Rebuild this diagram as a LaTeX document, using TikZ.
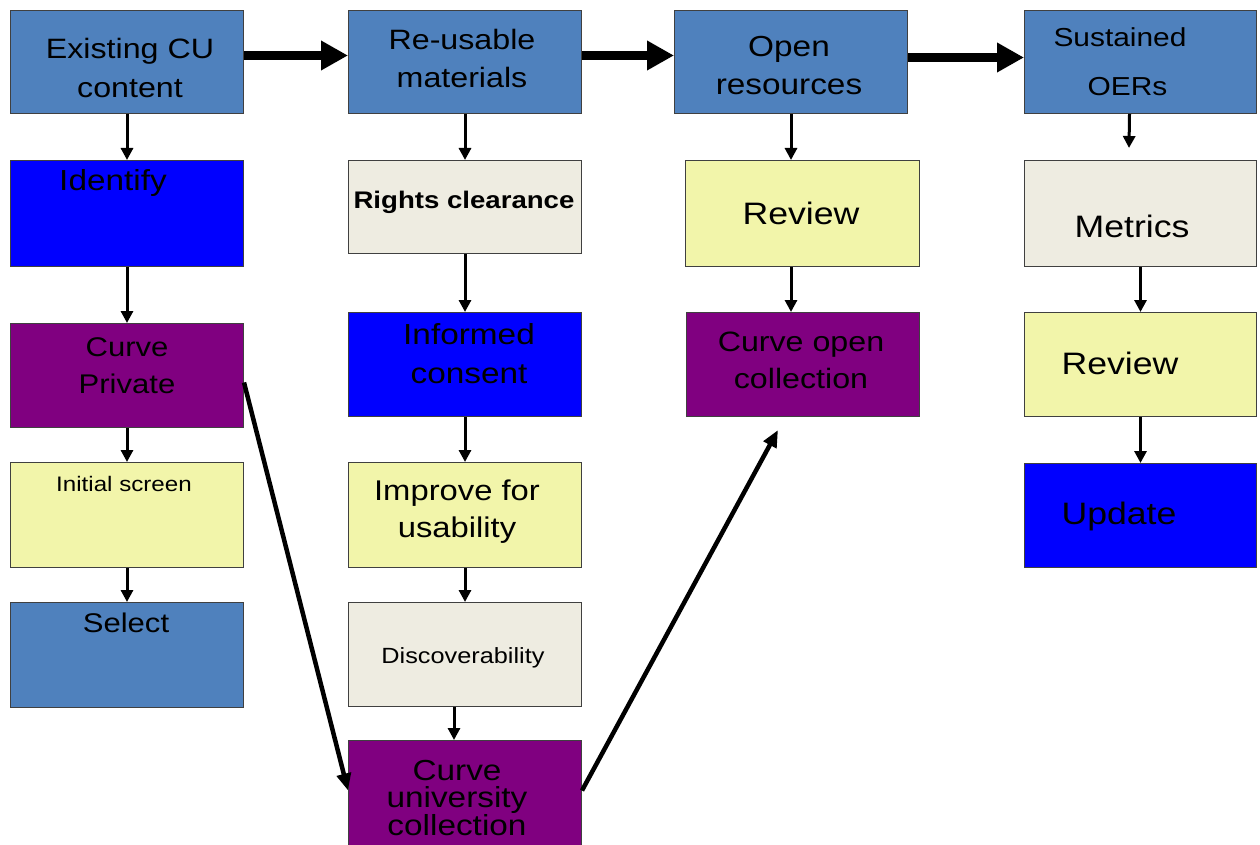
\documentclass[tikz,border=0pt]{standalone}
\usepackage{fontspec}
\setmainfont[FakeStretch=1.15]{Liberation Sans}
\usetikzlibrary{arrows.meta}
\definecolor{steel}{RGB}{79,129,189}
\definecolor{pureblue}{RGB}{0,0,255}
\definecolor{purp}{RGB}{128,0,128}
\definecolor{paleyellow}{RGB}{242,245,170}
\definecolor{beige}{RGB}{238,236,225}
\definecolor{boxline}{RGB}{64,64,64}
\newcommand\myfs[2]{\fontsize{#1}{#2}\selectfont}
\begin{document}
\begin{tikzpicture}[x=1pt,y=-1pt,
  box/.style={draw=boxline, line width=1pt, inner sep=0pt, anchor=north west},
  txt/.style={align=center, inner sep=0pt, text=black},
  thinarrow/.style={line width=3pt, -{Triangle[length=12pt,width=12pt]}},
  thickarrow/.style={line width=8.5pt, -{Triangle[length=27pt,width=28pt]}},
  diagarrow/.style={line width=4.5pt, -{Triangle[length=17pt,width=14pt]}}]
\useasboundingbox (0,0) rectangle (1260,845);
\clip (0,0) rectangle (1260,845);

% column 1
\node[box, fill=steel, minimum width=233pt, minimum height=103pt] (exist) at (10,10) {};
\node[box, fill=pureblue, minimum width=233pt, minimum height=106pt] (identify) at (10,160) {};
\node[box, fill=purp, minimum width=233pt, minimum height=104pt] (cpriv) at (10,323) {};
\node[box, fill=paleyellow, minimum width=233pt, minimum height=105pt] (init) at (10,462) {};
\node[box, fill=steel, minimum width=233pt, minimum height=105pt] (select) at (10,602) {};
% column 2
\node[box, fill=steel, minimum width=233pt, minimum height=103pt] (reuse) at (348,10) {};
\node[box, fill=beige, minimum width=233pt, minimum height=93pt] (rights) at (348,160) {};
\node[box, fill=pureblue, minimum width=233pt, minimum height=104pt] (informed) at (348,312) {};
\node[box, fill=paleyellow, minimum width=233pt, minimum height=105pt] (improve) at (348,462) {};
\node[box, fill=beige, minimum width=233pt, minimum height=104pt] (discover) at (348,602) {};
\node[box, fill=purp, minimum width=233pt, minimum height=120pt] (cuniv) at (348,740) {};
% column 3
\node[box, fill=steel, minimum width=233pt, minimum height=103pt] (open) at (674,10) {};
\node[box, fill=paleyellow, minimum width=234pt, minimum height=106pt] (review3) at (685,160) {};
\node[box, fill=purp, minimum width=233pt, minimum height=104pt] (copen) at (686,312) {};
% column 4
\node[box, fill=steel, minimum width=232pt, minimum height=103pt] (sust) at (1024,10) {};
\node[box, fill=beige, minimum width=232pt, minimum height=106pt] (metrics) at (1024,160) {};
\node[box, fill=paleyellow, minimum width=232pt, minimum height=104pt] (review4) at (1024,312) {};
\node[box, fill=pureblue, minimum width=232pt, minimum height=104pt] (update) at (1024,463) {};

% texts
\node[txt, font=\myfs{28}{39}] (exist-t) at (130,68) {Existing CU\\content};
\node[txt, font=\myfs{29}{36}] (identify-t) at (113,183) {Identify};
\node[txt, font=\myfs{27}{37}] (cpriv-t) at (127,366) {Curve\\Private};
\node[txt, font=\myfs{21}{25}] (init-t) at (124,484) {Initial screen};
\node[txt, font=\myfs{27}{34}] (select-t) at (126,623) {Select};
\node[txt, font=\myfs{28}{38}] (reuse-t) at (462,58) {Re-usable\\materials};
\node[txt, font=\bfseries\myfs{24}{30}] (rights-t) at (464,202) {Rights clearance};
\node[txt, font=\myfs{29}{39}] (informed-t) at (469,354) {Informed\\consent};
\node[txt, font=\myfs{28.5}{37}] (improve-t) at (457,512) {Improve for\\usability};
\node[txt, font=\myfs{22}{26}] (discover-t) at (463,658) {Discoverability};
\node[txt, font=\myfs{29}{26.5}] (cuniv-t) at (457,798) {Curve\\university\\collection};
\node[txt, font=\myfs{29}{38}] (open-t) at (789,66) {Open\\resources};
\node[txt, font=\myfs{31}{36}] (review3-t) at (801,213) {Review};
\node[txt, font=\myfs{28}{37}] (copen-t) at (801,360) {Curve open\\collection};
\node[txt, font=\myfs{26}{49}] (sust-t) at (1120,62) {Sustained\\\hspace*{15pt}OERs};
\node[txt, font=\myfs{31}{36}] (metrics-t) at (1132,226) {Metrics};
\node[txt, font=\myfs{31}{36}] (review4-t) at (1120,363) {Review};
\node[txt, font=\myfs{31}{37}] (update-t) at (1119,516) {Update};

% thick top arrows
\draw[thickarrow] ([yshift=6.5pt]exist.east) -- ([yshift=6.5pt]reuse.west);
\draw[thickarrow] ([yshift=6.5pt]reuse.east) -- ([yshift=6.5pt]open.west);
\draw[thickarrow] ([yshift=4.5pt]open.east) -- ([yshift=4.5pt]sust.west);

% thin vertical arrows
\draw[thinarrow] (exist.south) -- (identify.north);
\draw[thinarrow] (identify.south) -- (cpriv.north);
\draw[thinarrow] (cpriv.south) -- (init.north);
\draw[thinarrow] (init.south) -- (select.north);
\draw[thinarrow] (reuse.south) -- (rights.north);
\draw[thinarrow] (rights.south) -- (informed.north);
\draw[thinarrow] (informed.south) -- (improve.north);
\draw[thinarrow] (improve.south) -- (discover.north);
\draw[thinarrow] ([xshift=-11pt]discover.south) -- ([xshift=-11pt]cuniv.north);
\draw[thinarrow] (open.south) -- (open.south |- review3.north);
\draw[thinarrow] (open.south |- review3.south) -- (open.south |- copen.north);
\coordinate (sustend) at (1129,148);
\draw[thinarrow] ([xshift=-11pt]sust.south) -- (sustend);
\draw[thinarrow] (metrics.south) -- (review4.north);
\draw[thinarrow] (review4.south) -- (update.north);

% diagonal arrows
\draw[diagarrow] ([yshift=-7pt]cpriv.east) -- ([yshift=10pt]cuniv.west);
\coordinate (copenend) at (778,430);
\draw[diagarrow] ([yshift=10pt]cuniv.east) -- (copenend);
\end{tikzpicture}
\end{document}
